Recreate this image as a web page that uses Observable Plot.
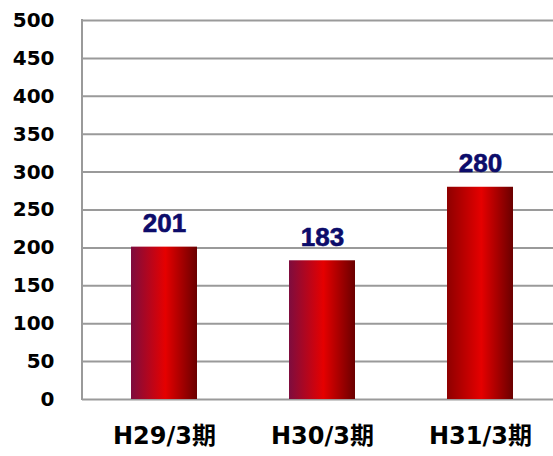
<!DOCTYPE html>
<html>
<head>
<meta charset="utf-8">
<script src="https://cdn.jsdelivr.net/npm/d3@7"></script>
<script src="https://cdn.jsdelivr.net/npm/@observablehq/plot@0.6"></script>
<style>
  html, body { margin: 0; padding: 0; background: #fff; }
  #chart svg { display: block; }
</style>
</head>
<body>
<div id="chart"></div>
<script>
const categories = ["H29/3期", "H30/3期", "H31/3期"];
const values = [201, 183, 280];
const yTicks = [0, 50, 100, 150, 200, 250, 300, 350, 400, 450, 500];

const data = categories.map((c, i) => ({cat: c, value: values[i], grad: `url(#barGrad${i})`}));

const gradLeft = ["#7e0c3e", "#7e0c3e", "#8e0000"];

function defs() {
  const ns = "http://www.w3.org/2000/svg";
  const d = document.createElementNS(ns, "defs");
  gradLeft.forEach((lc, i) => {
    const g = document.createElementNS(ns, "linearGradient");
    g.setAttribute("id", `barGrad${i}`);
    g.setAttribute("x1", "0"); g.setAttribute("x2", "1");
    g.setAttribute("y1", "0"); g.setAttribute("y2", "0");
    [[0, lc], [0.52, "#e50000"], [1, "#6a0000"]].forEach(([o, c]) => {
      const s = document.createElementNS(ns, "stop");
      s.setAttribute("offset", o);
      s.setAttribute("stop-color", c);
      g.appendChild(s);
    });
    d.appendChild(g);
  });
  return d;
}

function leftLine(index, scales, values, dims) {
  const ns = "http://www.w3.org/2000/svg";
  const l = document.createElementNS(ns, "line");
  l.setAttribute("x1", dims.marginLeft);
  l.setAttribute("x2", dims.marginLeft);
  l.setAttribute("y1", dims.marginTop - 1);
  l.setAttribute("y2", dims.height - dims.marginBottom + 1);
  l.setAttribute("stroke", "#9a9a9a");
  l.setAttribute("stroke-width", 2);
  return l;
}

const chart = Plot.plot({
  width: 553,
  height: 456,
  marginLeft: 82,
  marginTop: 20,
  marginBottom: 57,
  marginRight: -9,
  style: {background: "#fff", overflow: "visible"},
  x: {domain: categories, paddingInner: 0.58, paddingOuter: 0.3, label: null},
  y: {domain: [0, 500], label: null},
  color: {type: "identity"},
  marks: [
    defs,
    Plot.gridY(yTicks, {stroke: "#9a9a9a", strokeOpacity: 1, strokeWidth: 2}),
    leftLine,
    Plot.barY(data, {x: "cat", y: "value", fill: "grad"}),
    Plot.text(data, {
      x: "cat", y: "value", text: d => String(d.value),
      dy: -15, lineAnchor: "bottom", textAnchor: "middle",
      fill: "#0c0c6a", stroke: "#0c0c6a", strokeWidth: 0.6,
      fontSize: 26, fontWeight: "bold",
      fontFamily: "'Liberation Sans', Arial, sans-serif"
    }),
    Plot.axisY(yTicks, {
      tickSize: 0, tickPadding: 28, textAnchor: "end",
      fontSize: 20, fontWeight: "bold", fill: "#000", stroke: "#000", strokeWidth: 0.6,
      fontFamily: "'DejaVu Sans', sans-serif", label: null
    }),
    Plot.axisX({
      tickSize: 0, tickPadding: 27, lineAnchor: "top",
      fontSize: 24, fontWeight: "bold", fill: "#000", stroke: "#000", strokeWidth: 0.7,
      fontFamily: "'DejaVu Sans', 'Noto Sans CJK JP', sans-serif", label: null
    })
  ]
});

document.getElementById("chart").appendChild(chart);
</script>
</body>
</html>
